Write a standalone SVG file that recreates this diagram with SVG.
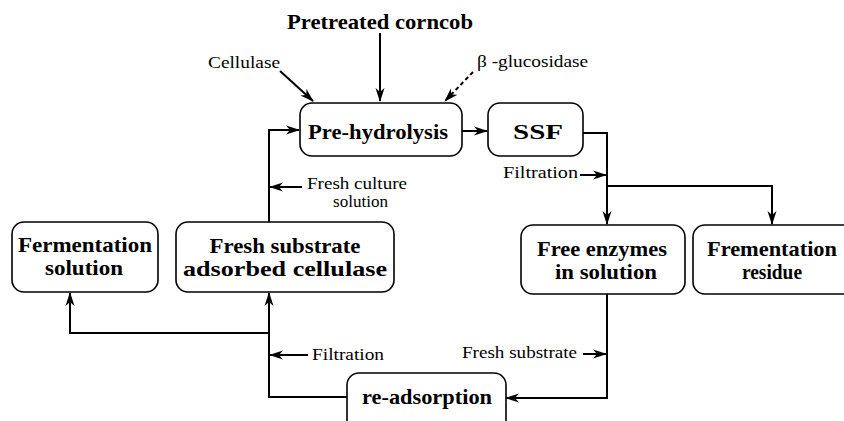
<svg xmlns="http://www.w3.org/2000/svg" width="844" height="421" viewBox="0 0 844 421">
<style>
.box{fill:#fff;stroke:#000;stroke-width:1.6}
.b{font-family:"Liberation Serif","Times New Roman",serif;font-weight:bold;font-size:22px;fill:#000}
.n{font-family:"Liberation Serif","Times New Roman",serif;font-size:16px;fill:#000}
.ln{fill:none;stroke:#000;stroke-width:2}
</style>
<defs>
<marker id="ah" markerWidth="14" markerHeight="10" refX="13" refY="5" orient="auto" markerUnits="userSpaceOnUse">
<path d="M0,0.5 L14,5 L0,9.5 L4,5 Z" fill="#000"/>
</marker>
</defs>
<rect width="844" height="421" fill="#fff"/>
<g id="connectors">
<line class="ln" x1="380" y1="33" x2="380" y2="101" marker-end="url(#ah)"/>
<line class="ln" x1="280" y1="71" x2="313" y2="101" marker-end="url(#ah)"/>
<line class="ln" x1="473" y1="72" x2="445" y2="101" stroke-dasharray="4,3" stroke-width="1.5" marker-end="url(#ah)"/>
<line class="ln" x1="462" y1="131" x2="487" y2="131" marker-end="url(#ah)"/>
<polyline class="ln" points="583,133 607,133 607,224" marker-end="url(#ah)"/>
<polyline class="ln" points="607,186 772,186 772,224" marker-end="url(#ah)"/>
<line class="ln" x1="580" y1="175" x2="606" y2="175" marker-end="url(#ah)"/>
<polyline class="ln" points="269,222 269,130 299,130" marker-end="url(#ah)"/>
<line class="ln" x1="302" y1="187" x2="270" y2="187" marker-end="url(#ah)"/>
<polyline class="ln" points="607,293 607,398 506,398" marker-end="url(#ah)"/>
<line class="ln" x1="583" y1="354" x2="606" y2="354" marker-end="url(#ah)"/>
<polyline class="ln" points="347,397 269,397 269,293" marker-end="url(#ah)"/>
<polyline class="ln" points="269,333 70,333 70,293" marker-end="url(#ah)"/>
<line class="ln" x1="308" y1="355" x2="270" y2="355" marker-end="url(#ah)"/>
</g>
<g id="pretreated-corncob"><text class="b" x="380" y="29" text-anchor="middle" textLength="186" lengthAdjust="spacingAndGlyphs">Pretreated corncob</text></g>
<g id="cellulase"><text class="n" x="208" y="68" textLength="72" lengthAdjust="spacingAndGlyphs">Cellulase</text></g>
<g id="beta-glucosidase"><text class="n" x="477" y="67" textLength="111" lengthAdjust="spacingAndGlyphs">β -glucosidase</text></g>
<g id="pre-hydrolysis">
<rect class="box" x="300" y="103" width="162" height="53" rx="12"/>
<text class="b" x="378" y="139" text-anchor="middle" textLength="140" lengthAdjust="spacingAndGlyphs">Pre-hydrolysis</text>
</g>
<g id="ssf">
<rect class="box" x="488" y="103" width="95" height="53" rx="12"/>
<text class="b" x="538" y="139" text-anchor="middle" textLength="50" lengthAdjust="spacingAndGlyphs">SSF</text>
</g>
<g id="label-filtration-top"><text class="n" x="503" y="178" textLength="75" lengthAdjust="spacingAndGlyphs">Filtration</text></g>
<g id="label-fresh-culture">
<text class="n" x="307" y="189" textLength="100" lengthAdjust="spacingAndGlyphs">Fresh culture</text>
<text class="n" x="333" y="207" textLength="55" lengthAdjust="spacingAndGlyphs">solution</text>
</g>
<g id="fermentation-solution">
<rect class="box" x="12" y="222" width="146" height="70" rx="12"/>
<text class="b" x="85" y="252" text-anchor="middle" textLength="134" lengthAdjust="spacingAndGlyphs">Fermentation</text>
<text class="b" x="84" y="275" text-anchor="middle" textLength="78" lengthAdjust="spacingAndGlyphs">solution</text>
</g>
<g id="fresh-substrate-adsorbed-cellulase">
<rect class="box" x="176" y="222" width="218" height="70" rx="12"/>
<text class="b" x="285" y="253" text-anchor="middle" textLength="151" lengthAdjust="spacingAndGlyphs">Fresh substrate</text>
<text class="b" x="285" y="276" text-anchor="middle" textLength="204" lengthAdjust="spacingAndGlyphs">adsorbed cellulase</text>
</g>
<g id="free-enzymes">
<rect class="box" x="521" y="225" width="164" height="69" rx="12"/>
<text class="b" x="602" y="256" text-anchor="middle" textLength="130" lengthAdjust="spacingAndGlyphs">Free enzymes</text>
<text class="b" x="606" y="279" text-anchor="middle" textLength="102" lengthAdjust="spacingAndGlyphs">in solution</text>
</g>
<g id="frementation-residue">
<rect class="box" x="693" y="225" width="170" height="69" rx="12"/>
<text class="b" x="772" y="256" text-anchor="middle" textLength="130" lengthAdjust="spacingAndGlyphs">Frementation</text>
<text class="b" x="772" y="279" text-anchor="middle" textLength="60" lengthAdjust="spacingAndGlyphs">residue</text>
</g>
<g id="label-filtration-bottom"><text class="n" x="312" y="360" textLength="72" lengthAdjust="spacingAndGlyphs">Filtration</text></g>
<g id="label-fresh-substrate"><text class="n" x="462" y="358" textLength="115" lengthAdjust="spacingAndGlyphs">Fresh substrate</text></g>
<g id="re-adsorption">
<rect class="box" x="347" y="373" width="159" height="60" rx="12"/>
<text class="b" x="427" y="404" text-anchor="middle" textLength="130" lengthAdjust="spacingAndGlyphs">re-adsorption</text>
</g>
</svg>
